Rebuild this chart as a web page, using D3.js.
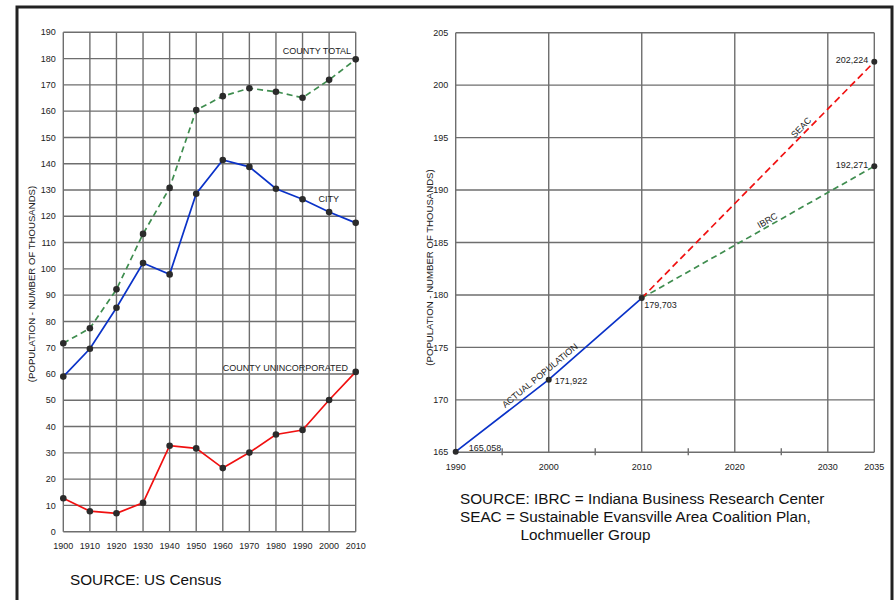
<!DOCTYPE html>
<html>
<head>
<meta charset="utf-8">
<script src="https://cdn.jsdelivr.net/npm/d3@7"></script>
<style>
  html, body { margin: 0; padding: 0; background: #fff; }
  svg { display: block; font-family: "Liberation Sans", Arial, sans-serif; }
</style>
</head>
<body>
<svg id="chart" width="894" height="600"></svg>
<script>
// ---------- Left chart data (thousands) ----------
const years = [1900, 1910, 1920, 1930, 1940, 1950, 1960, 1970, 1980, 1990, 2000, 2010];
const countyTotal = [71.7, 77.4, 92.2, 113.3, 130.8, 160.4, 165.7, 168.7, 167.4, 165.1, 171.9, 179.7];
const city = [59.0, 69.6, 85.2, 102.2, 97.9, 128.6, 141.4, 138.8, 130.5, 126.5, 121.6, 117.5];
const countyUninc = [12.7, 7.8, 7.0, 11.0, 32.7, 31.7, 24.2, 30.1, 37.0, 38.7, 50.1, 60.8];
const leftYTicks = [0, 10, 20, 30, 40, 50, 60, 70, 80, 90, 100, 110, 120, 130, 140, 150, 160, 170, 180, 190];
const leftXTicks = years;

// ---------- Right chart data (thousands) ----------
const actualYears = [1990, 2000, 2010];
const actualValues = [165.058, 171.922, 179.703];
const seacYears = [2010, 2035];
const seacValues = [179.703, 202.224];
const ibrcYears = [2010, 2035];
const ibrcValues = [179.703, 192.271];
const rightYTicks = [165, 170, 175, 180, 185, 190, 195, 200, 205];
const rightXTicks = [1990, 2000, 2010, 2020, 2030, 2035];
const rightMinorTicks = [1995, 2005, 2015, 2025];

const yTitle = "(POPULATION - NUMBER OF THOUSANDS)";

const svg = d3.select("#chart");
const GRID = "#6e6e6e";
const TXT = "#222";
const DOT = "#2b2b2b";

// Outer frame
svg.append("path")
  .attr("d", "M17,602 L17,7 L892,7 L892,602")
  .attr("fill", "none").attr("stroke", "#222").attr("stroke-width", 3);

function drawGrid(g, x, y, xt, yt) {
  const [x0, x1] = x.range();
  const [y0, y1] = y.range();
  g.append("g").selectAll("line").data(yt).join("line")
    .attr("x1", x0).attr("x2", x1)
    .attr("y1", d => y(d)).attr("y2", d => y(d))
    .attr("stroke", GRID).attr("stroke-width", 1.4);
  g.append("g").selectAll("line").data(xt).join("line")
    .attr("y1", y0).attr("y2", y1)
    .attr("x1", d => x(d)).attr("x2", d => x(d))
    .attr("stroke", GRID).attr("stroke-width", 1.4);
  g.append("g").selectAll("text").data(yt).join("text")
    .attr("x", x0 - 7.5).attr("y", d => y(d)).attr("dy", "0.35em")
    .attr("text-anchor", "end").attr("font-size", 9).attr("fill", TXT)
    .text(d => d);
  g.append("g").selectAll("text").data(xt).join("text")
    .attr("x", d => x(d)).attr("y", y0 + 14.2).attr("dy", "0.35em")
    .attr("text-anchor", "middle").attr("font-size", 9).attr("fill", TXT)
    .text(d => d);
}

// ================= LEFT CHART =================
const xL = d3.scaleLinear().domain([1900, 2010]).range([63.3, 355.7]);
const yL = d3.scaleLinear().domain([0, 190]).range([531.7, 32.3]);
const gL = svg.append("g");
drawGrid(gL, xL, yL, leftXTicks, leftYTicks);

gL.append("text")
  .attr("transform", "translate(35,284) rotate(-90)")
  .attr("text-anchor", "middle").attr("font-size", 9.6).attr("fill", TXT)
  .text(yTitle);

const lineL = d3.line().x(d => xL(d[0])).y(d => yL(d[1]));
const seriesL = [
  { vals: countyTotal, color: "#3f8d4f", dash: "6,4" },
  { vals: city, color: "#0a32c8", dash: null },
  { vals: countyUninc, color: "#f01010", dash: null }
];
seriesL.forEach(s => {
  const pts = years.map((yr, i) => [yr, s.vals[i]]);
  gL.append("path").datum(pts).attr("d", lineL)
    .attr("fill", "none").attr("stroke", s.color).attr("stroke-width", 1.7)
    .attr("stroke-dasharray", s.dash);
  gL.append("g").selectAll("circle").data(pts).join("circle")
    .attr("cx", d => xL(d[0])).attr("cy", d => yL(d[1])).attr("r", 3.3)
    .attr("fill", DOT);
});

gL.append("text").attr("x", 351).attr("y", 54).attr("text-anchor", "end")
  .attr("font-size", 9).attr("fill", TXT).text("COUNTY TOTAL");
gL.append("text").attr("x", 339).attr("y", 201.5).attr("text-anchor", "end")
  .attr("font-size", 9).attr("fill", TXT).text("CITY");
gL.append("text").attr("x", 348).attr("y", 370.5).attr("text-anchor", "end")
  .attr("font-size", 9).attr("fill", TXT).text("COUNTY UNINCORPORATED");

gL.append("text").attr("x", 70).attr("y", 585).attr("font-size", 15.3).attr("fill", "#111")
  .text("SOURCE: US Census");

// ================= RIGHT CHART =================
const xR = d3.scaleLinear().domain([1990, 2035]).range([455.7, 874.3]);
const yR = d3.scaleLinear().domain([165, 205]).range([452.3, 32.7]);
const gR = svg.append("g");
drawGrid(gR, xR, yR, rightXTicks, rightYTicks);

gR.append("g").selectAll("line").data(rightMinorTicks).join("line")
  .attr("x1", d => xR(d)).attr("x2", d => xR(d))
  .attr("y1", yR(165) - 4).attr("y2", yR(165) + 3)
  .attr("stroke", GRID).attr("stroke-width", 1.4);

gR.append("text")
  .attr("transform", "translate(433,267.5) rotate(-90)")
  .attr("text-anchor", "middle").attr("font-size", 9.6).attr("fill", TXT)
  .text(yTitle);

const lineR = d3.line().x(d => xR(d[0])).y(d => yR(d[1]));
const seriesR = [
  { yrs: ibrcYears, vals: ibrcValues, color: "#3f8d4f", dash: "6,4" },
  { yrs: seacYears, vals: seacValues, color: "#f01010", dash: "7,4" },
  { yrs: actualYears, vals: actualValues, color: "#0a32c8", dash: null }
];
seriesR.forEach(s => {
  const pts = s.yrs.map((yr, i) => [yr, s.vals[i]]);
  gR.append("path").datum(pts).attr("d", lineR)
    .attr("fill", "none").attr("stroke", s.color).attr("stroke-width", 1.7)
    .attr("stroke-dasharray", s.dash);
});
const markPts = actualYears.map((yr, i) => [yr, actualValues[i]])
  .concat([[seacYears[1], seacValues[1]], [ibrcYears[1], ibrcValues[1]]]);
gR.append("g").selectAll("circle").data(markPts).join("circle")
  .attr("cx", d => xR(d[0])).attr("cy", d => yR(d[1])).attr("r", 3)
  .attr("fill", DOT);

const fmt = d3.format(",");
const valLabels = [
  { p: [actualYears[0], actualValues[0]], dx: 13, dy: -4, anchor: "start" },
  { p: [actualYears[1], actualValues[1]], dx: 6, dy: 1, anchor: "start" },
  { p: [actualYears[2], actualValues[2]], dx: 2.5, dy: 7, anchor: "start" },
  { p: [seacYears[1], seacValues[1]], dx: -6, dy: -2, anchor: "end" },
  { p: [ibrcYears[1], ibrcValues[1]], dx: -6, dy: -1.5, anchor: "end" }
];
gR.append("g").selectAll("text").data(valLabels).join("text")
  .attr("x", d => xR(d.p[0]) + d.dx).attr("y", d => yR(d.p[1]) + d.dy)
  .attr("dy", "0.35em").attr("text-anchor", d => d.anchor)
  .attr("font-size", 9).attr("fill", TXT)
  .text(d => fmt(Math.round(d.p[1] * 1000)));

// Rotated line labels
function lineLabel(text, yrs, vals, atYear, off) {
  const xa = xR(yrs[0]), ya = yR(vals[0]);
  const xb = xR(yrs[yrs.length - 1]), yb = yR(vals[vals.length - 1]);
  const ang = Math.atan2(yb - ya, xb - xa);
  const t = (xR(atYear) - xa) / (xb - xa);
  const px = xa + t * (xb - xa), py = ya + t * (yb - ya);
  gR.append("text")
    .attr("transform", `translate(${px},${py}) rotate(${ang * 180 / Math.PI})`)
    .attr("y", off).attr("text-anchor", "middle")
    .attr("font-size", 9).attr("fill", TXT).text(text);
}
lineLabel("SEAC", seacYears, seacValues, 2027.6, -3);
lineLabel("IBRC", ibrcYears, ibrcValues, 2023.8, -2.5);
lineLabel("ACTUAL POPULATION", actualYears, actualValues, 1999.4, -2);

// Source notes
const src = gR.append("text").attr("font-size", 15.3).attr("fill", "#111");
src.append("tspan").attr("x", 460).attr("y", 504).text("SOURCE: IBRC = Indiana Business Research Center");
src.append("tspan").attr("x", 460).attr("y", 522).text("SEAC = Sustainable Evansville Area Coalition Plan,");
src.append("tspan").attr("x", 520.5).attr("y", 540).text("Lochmueller Group");
</script>
</body>
</html>
